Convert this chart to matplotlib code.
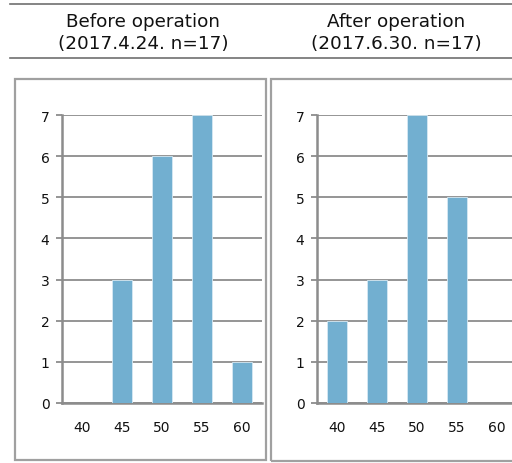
import matplotlib
matplotlib.use("Agg")
import matplotlib.pyplot as plt
from matplotlib.lines import Line2D
from matplotlib.patches import Rectangle

# data
categories = ["40", "45", "50", "55", "60"]
before_counts = [0, 3, 6, 7, 1]
after_counts = [2, 3, 7, 5, 0]
titles = ["Before operation\n(2017.4.24. n=17)", "After operation\n(2017.6.30. n=17)"]

W, H = 512, 464
fig = plt.figure(figsize=(W / 100, H / 100), dpi=100)
fig.patch.set_facecolor("white")

def fx(px):
    return px / W

def fy(py):
    return 1 - py / H

line_col = "#8c8c8c"
bar_col = "#72afd0"

# header rules
for y in (5, 59):
    fig.add_artist(Line2D([fx(10), fx(512)], [fy(y), fy(y)], color="#707070", lw=1.2))

# header text
fig.text(fx(143), fy(33), titles[0], ha="center", va="center", fontsize=13.2,
         linespacing=1.3, color="#111111")
fig.text(fx(396), fy(33), titles[1], ha="center", va="center", fontsize=13.2,
         linespacing=1.3, color="#111111")

# panel boxes
for x0, x1, y1 in ((15, 266, 461), (271, 530, 462)):
    fig.add_artist(Rectangle((fx(x0), fy(y1)), fx(x1 - x0), fy(80) - fy(y1),
                             fill=False, edgecolor="#a0a0a0", lw=1.6))

def draw_panel(left_px, counts):
    ax = fig.add_axes([fx(left_px), fy(404), fx(200), fy(116) - fy(404)])
    ax.bar(range(len(categories)), counts, width=0.5, color=bar_col,
           edgecolor="#d6e9f3", linewidth=0.6, zorder=3)
    ax.set_xlim(-0.5, len(categories) - 0.5)
    ax.set_ylim(0, 7)
    ax.set_yticks(range(0, 8))
    ax.set_xticks(range(len(categories)))
    ax.set_xticklabels(categories)
    ax.yaxis.grid(True, color=line_col, lw=1.3, zorder=0)
    for s in ("top", "right"):
        ax.spines[s].set_visible(False)
    ax.spines["left"].set_color(line_col)
    ax.spines["left"].set_linewidth(1.8)
    ax.spines["bottom"].set_color(line_col)
    ax.spines["bottom"].set_linewidth(1.8)
    ax.tick_params(axis="y", length=4, width=1.3, color=line_col, pad=5,
                   labelsize=10, labelcolor="#111111")
    ax.tick_params(axis="x", length=0, pad=12, labelsize=10, labelcolor="#111111")
    ax.set_facecolor("none")
    return ax

draw_panel(62, before_counts)
draw_panel(317, after_counts)

fig.savefig("out.png", dpi=100)
